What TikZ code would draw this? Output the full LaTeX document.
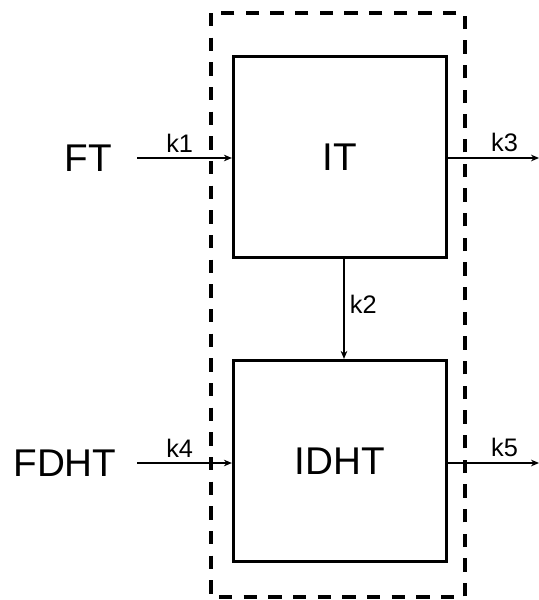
\documentclass[tikz,border=0pt]{standalone}
\usepackage{fontspec}
\setmainfont{Liberation Sans}
\usetikzlibrary{positioning,arrows.meta}

\begin{document}
\begin{tikzpicture}[
    x=0.75pt, y=-0.75pt,
    block/.style={rectangle, draw=black, line width=2.2pt, minimum width=160pt,
                  minimum height=151pt, font=\fontsize{29}{30}\selectfont},
    port/.style={font=\fontsize{29}{30}\selectfont, inner sep=0pt},
    flow/.style={-{Stealth[length=6pt,width=5pt]}, line width=0.9pt},
    lbl/.style={font=\fontsize{19}{21}\selectfont, inner sep=4pt},
    frame/.style={draw=black, line width=2.6pt, dash pattern=on 10pt off 8.5pt}
]
\useasboundingbox (0,0) rectangle (539,600);

% Boxes
\node[block] (it) at (340,157) {IT};
\node[block] (idht) at (340,461) {IDHT};

% Dashed frame round both boxes
\draw[frame] (211,13) rectangle (465,597);

% Inputs
\node[port] (ft) at (88,158) {FT};
\node[port] (fdht) at (65,463) {FDHT};
\coordinate (ftout) at (137,158);
\coordinate (fdhtout) at (137,463);
\coordinate (k3end) at (539,158);
\coordinate (k5end) at (539,463);

% Connections
\draw[flow] (ftout) -- node[lbl, above, pos=0.45] {k1} (it.west |- ftout);
\draw[flow] (fdhtout) -- node[lbl, above, pos=0.45] {k4} (idht.west |- fdhtout);
\draw[flow] ([xshift=3pt]it.south) -- node[lbl, right, pos=0.45] {k2} ([xshift=3pt]idht.north);
\draw[flow] (it.east |- k3end) -- node[lbl, above, pos=0.62] {k3} (k3end);
\draw[flow] (idht.east |- k5end) -- node[lbl, above, pos=0.62] {k5} (k5end);

\end{tikzpicture}
\end{document}
